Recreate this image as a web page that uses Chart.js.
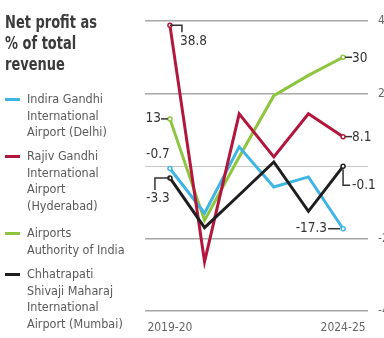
<!DOCTYPE html>
<html>
<head>
<meta charset="utf-8">
<script src="https://cdn.jsdelivr.net/npm/chart.js@4"></script>
<style>
  html, body { margin: 0; padding: 0; background: #fff; overflow: hidden; width: 384px; height: 338px; }
  #wrap { position: absolute; left: 0; top: 0; width: 400px; height: 338px; }
  #side { position: absolute; left: 0; top: 0; width: 140px; font-family: "Liberation Sans Narrow", "DejaVu Sans Condensed", sans-serif; }
  .title { position: absolute; left: 5px; top: 12px; font-weight: bold; font-size: 17px; line-height: 21px; color: #3b3b3b; transform: scaleX(0.85); transform-origin: left top; white-space: nowrap; }
  .item { position: absolute; left: 27px; font-size: 12.5px; line-height: 16.7px; color: #5a5a5a; white-space: nowrap; }
  .sw { position: absolute; left: -22px; top: 7px; width: 15px; height: 3px; }
</style>
</head>
<body>
<div id="wrap"><canvas id="chart" width="400" height="338"></canvas></div>
<div id="side">
  <div class="title">Net profit as<br>% of total<br>revenue</div>
</div>
<script>
// data
const years = ['2019-20', '2020-21', '2021-22', '2022-23', '2023-24', '2024-25'];
const delhi = [-0.7, -13, 5.3, -5.8, -3, -17.3];
const hyderabad = [38.8, -26.4, 14.4, 2.5, 14.4, 8.1];
const aai = [13, -15, 2.5, 19.4, 25, 30];
const mumbai = [-3.3, -17, -8, 1.1, -12.5, -0.1];
const yTicks = [40, 20, 0, -20, -40];

const names = [
  'Indira Gandhi<br>International<br>Airport (Delhi)',
  'Rajiv Gandhi<br>International<br>Airport<br>(Hyderabad)',
  'Airports<br>Authority of India',
  'Chhatrapati<br>Shivaji Maharaj<br>International<br>Airport (Mumbai)'
];
const colors = ['#3fb5e3', '#b3163d', '#8dc53e', '#1e1e1e'];
const legendTops = [91, 148, 225, 266];

const side = document.getElementById('side');
names.forEach((n, i) => {
  const d = document.createElement('div');
  d.className = 'item';
  d.style.top = legendTops[i] + 'px';
  d.innerHTML = '<span class="sw" style="background:' + colors[i] + '"></span>' + n;
  side.appendChild(d);
});

function pts(arr) {
  return arr.map((v, i) => ({ x: i, y: v }));
}

function ds(label, arr, color, order) {
  return {
    label: label,
    data: pts(arr),
    borderColor: color,
    backgroundColor: '#fff',
    borderWidth: 3,
    tension: 0,
    order: order,
    pointRadius: arr.map((v, i) => (i === 0 || i === arr.length - 1) ? 2 : 0),
    pointBorderWidth: 1.5,
    pointBorderColor: color
  };
}

// value labels with little leader lines
const labelPlugin = {
  id: 'valueLabels',
  afterDatasetsDraw(chart) {
    const c = chart.ctx;
    const xs = chart.scales.x, ys = chart.scales.y;
    const P = (i, v) => [xs.getPixelForValue(i), ys.getPixelForValue(v)];
    c.save();
    c.fillStyle = '#333';
    c.strokeStyle = '#333';
    c.lineWidth = 1.5;
    c.font = '13.5px "Liberation Sans Narrow", "DejaVu Sans Condensed", sans-serif';
    c.textBaseline = 'middle';
    const last = years.length - 1;
    function line(pp) {
      c.beginPath();
      c.moveTo(pp[0][0], pp[0][1]);
      for (let k = 1; k < pp.length; k++) c.lineTo(pp[k][0], pp[k][1]);
      c.stroke();
    }
    // 38.8
    let [x, y] = P(0, hyderabad[0]);
    line([[x, y], [x + 12, y], [x + 12, y + 7]]);
    c.textAlign = 'left';
    c.fillText(String(hyderabad[0]), x + 10, y + 16);
    // 13
    [x, y] = P(0, aai[0]);
    line([[x - 2, y], [x - 9, y]]);
    c.textAlign = 'right';
    c.fillText(String(aai[0]), x - 9, y);
    // -0.7
    [x, y] = P(0, delhi[0]);
    c.textAlign = 'center';
    c.fillText(String(delhi[0]), x - 12, y - 14);
    // -3.3
    [x, y] = P(0, mumbai[0]);
    line([[x, y], [x - 15, y], [x - 15, y + 12]]);
    c.textAlign = 'center';
    c.fillText(String(mumbai[0]), x - 12, y + 21);
    // right side
    c.textAlign = 'left';
    [x, y] = P(last, aai[last]);
    line([[x + 2, y], [x + 9, y]]);
    c.fillText(String(aai[last]), x + 9, y + 1);
    [x, y] = P(last, hyderabad[last]);
    line([[x + 2, y], [x + 9, y]]);
    c.fillText(String(hyderabad[last]), x + 9, y + 1);
    [x, y] = P(last, mumbai[last]);
    line([[x, y + 3], [x, y + 19], [x + 7, y + 19]]);
    c.fillText(String(mumbai[last]), x + 9, y + 19);
    [x, y] = P(last, delhi[last]);
    line([[x - 3, y], [x - 15, y]]);
    c.textAlign = 'right';
    c.fillText(String(delhi[last]), x - 16, y);
    c.restore();
  }
};

const ctx = document.getElementById('chart').getContext('2d');
const chart = new Chart(ctx, {
  type: 'line',
  data: {
    datasets: [
      ds('Delhi', delhi, colors[0], 2),
      ds('Hyderabad', hyderabad, colors[1], 1),
      ds('AAI', aai, colors[2], 3),
      ds('Mumbai', mumbai, colors[3], 0)
    ]
  },
  options: {
    responsive: false,
    animation: false,
    layout: { padding: { left: 145, top: 21, right: 0, bottom: 0 } },
    plugins: { legend: { display: false }, tooltip: { enabled: false } },
    scales: {
      x: {
        type: 'linear',
        min: -0.72,
        max: years.length - 1 + 0.72,
        grid: { display: false, drawTicks: false },
        border: { display: false },
        afterBuildTicks: s => { s.ticks = [{ value: 0 }, { value: years.length - 1 }]; },
        afterFit: s => { s.height = 27; },
        ticks: {
          padding: 10,
          maxRotation: 0,
          autoSkip: false,
          color: '#666',
          font: { family: '"Liberation Sans Narrow", "DejaVu Sans Condensed", sans-serif', size: 12 },
          callback: v => years[v] || ''
        }
      },
      y: {
        position: 'right',
        min: -40,
        max: 40,
        afterBuildTicks: s => { s.ticks = yTicks.map(v => ({ value: v })); },
        afterFit: s => { s.width = 32; },
        grid: {
          drawTicks: false,
          color: ctx => ctx.tick && ctx.tick.value === 0 ? '#c8c8c8' : '#a8a8a8',
          lineWidth: ctx => ctx.tick && ctx.tick.value === 0 ? 1 : 1.5
        },
        border: { display: false },
        ticks: {
          padding: 10,
          color: '#666',
          font: { family: '"Liberation Sans Narrow", "DejaVu Sans Condensed", sans-serif', size: 12 },
          callback: v => v === 0 ? '' : v
        }
      }
    }
  },
  plugins: [labelPlugin]
});
</script>
</body>
</html>
